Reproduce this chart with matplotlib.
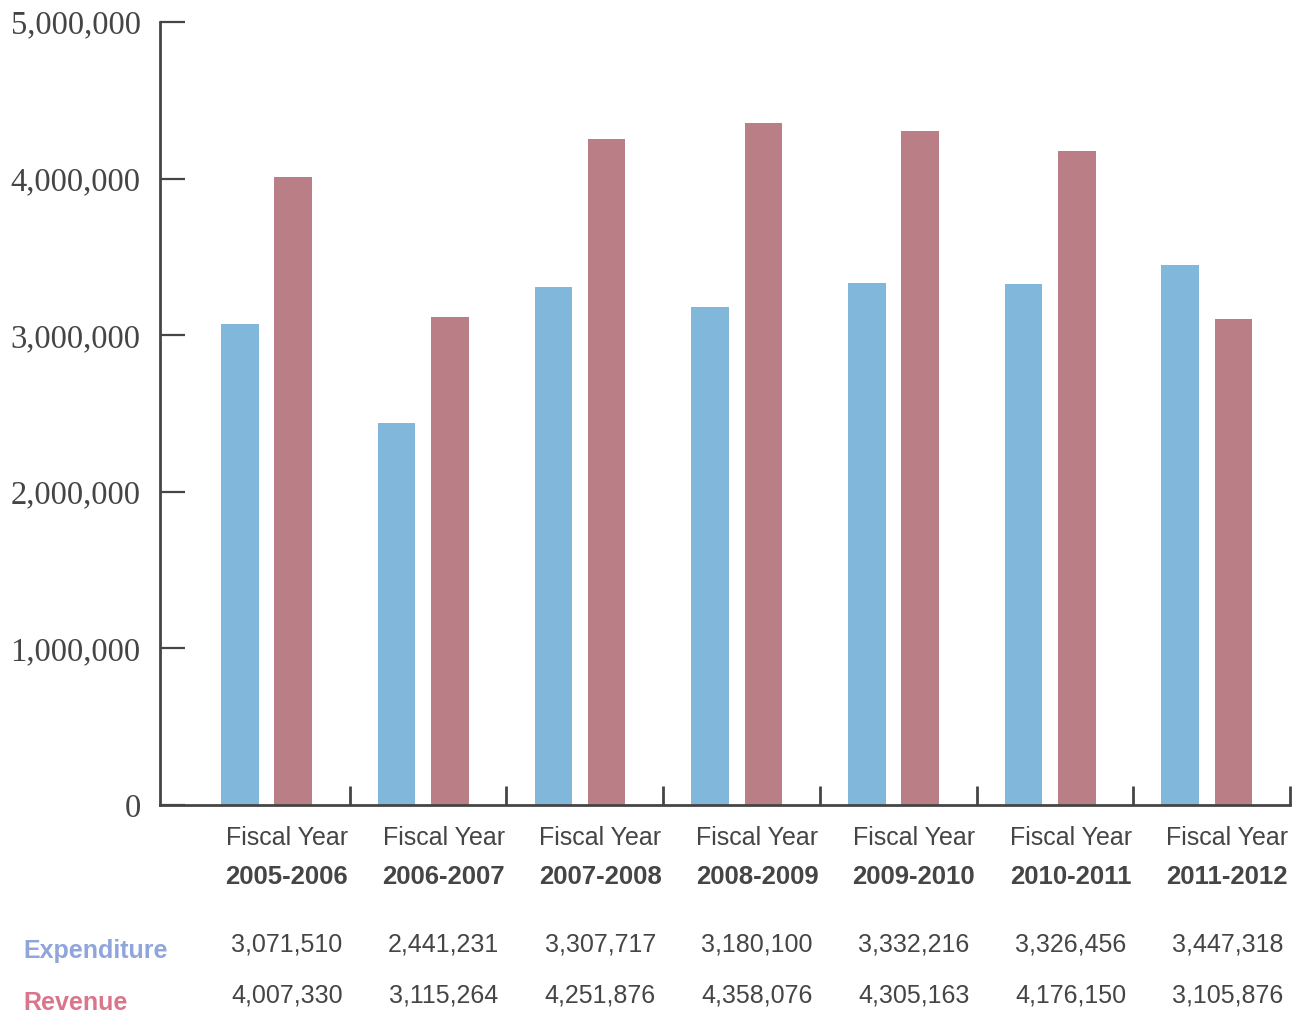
import matplotlib.pyplot as plt
import numpy as np
from matplotlib.transforms import blended_transform_factory

years = ["2005-2006", "2006-2007", "2007-2008", "2008-2009", "2009-2010", "2010-2011", "2011-2012"]
expenditure = [3071510, 2441231, 3307717, 3180100, 3332216, 3326456, 3447318]
revenue = [4007330, 3115264, 4251876, 4358076, 4305163, 4176150, 3105876]
y_ticks = [0, 1000000, 2000000, 3000000, 4000000, 5000000]

BLUE = "#82b7dc"
RED = "#b97e86"
INK = "#454545"
SANS = ["Liberation Sans", "DejaVu Sans"]

fig = plt.figure(figsize=(13.07, 10.23), dpi=100)
ax = fig.add_axes([0.1224, 0.2131, 0.8646, 0.7654])

x = np.arange(len(years))
ax.bar(x - 0.17, expenditure, width=0.24, color=BLUE)
ax.bar(x + 0.17, revenue, width=0.24, color=RED)

ax.set_xlim(-0.68, 6.52)
ax.set_ylim(0, 5000000)
ax.spines[["top", "right"]].set_visible(False)
for s in ("left", "bottom"):
    ax.spines[s].set_color(INK)
    ax.spines[s].set_linewidth(2)

ax.set_yticks(y_ticks)
ax.set_yticklabels([f"{v:,}" if v else "0" for v in y_ticks],
                   family="Liberation Serif", fontsize=23.5, color=INK)
ax.tick_params(axis="y", direction="in", length=18, width=1.6, color=INK, pad=14)

ax.set_xticks(x)
ax.set_xticklabels([])
ax.tick_params(axis="x", which="major", length=0)
ax.set_xticks(x + 0.53, minor=True)
ax.tick_params(axis="x", which="minor", direction="in", length=14, width=2, color=INK)

# category labels and the value table below the plot
tr = blended_transform_factory(ax.transData, fig.transFigure)
for i, yr in enumerate(years):
    cx = i + 0.13
    ax.text(cx, 0.174, "Fiscal Year", transform=tr, ha="center", va="baseline",
            family=SANS, fontsize=18, color=INK, clip_on=False)
    ax.text(cx, 0.136, yr, transform=tr, ha="center", va="baseline",
            family=SANS, fontsize=18.5, fontweight="bold", color=INK, clip_on=False)
    ax.text(cx, 0.070, f"{expenditure[i]:,}", transform=tr, ha="center", va="baseline",
            family=SANS, fontsize=18, color=INK, clip_on=False)
    ax.text(cx, 0.020, f"{revenue[i]:,}", transform=tr, ha="center", va="baseline",
            family=SANS, fontsize=18, color=INK, clip_on=False)

fig.text(0.018, 0.064, "Expenditure", family=SANS, fontsize=18, fontweight="bold",
         color="#8fa5dc", va="baseline")
fig.text(0.018, 0.013, "Revenue", family=SANS, fontsize=18, fontweight="bold",
         color="#d9768b", va="baseline")

fig.savefig("out.png", dpi=100)
